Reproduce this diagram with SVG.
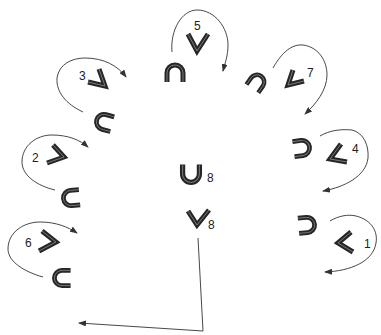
<svg xmlns="http://www.w3.org/2000/svg" xmlns:xlink="http://www.w3.org/1999/xlink" width="381" height="335" viewBox="0 0 381 335">
<style>
.sh{fill:none;stroke:#262626;stroke-width:5;stroke-linejoin:miter;stroke-linecap:butt}
.shi{fill:none;stroke:#7a7a7a;stroke-width:1;stroke-linejoin:miter}
.lbl{font-family:"Liberation Sans",Arial,sans-serif;font-size:12px;fill:#222}
.con{fill:none;stroke:#333;stroke-width:0.9}
</style>
<defs>
<path id="u" d="M-8,-9 V0 A8,8 0 0 0 8,0 V-9"/>
<marker id="ah" viewBox="0 0 8 6" refX="7" refY="3" markerWidth="8" markerHeight="6" markerUnits="userSpaceOnUse" orient="auto">
<path d="M0,0 L8,3 L0,6 z" fill="#333"/>
</marker>
</defs>
<rect width="381" height="335" fill="#fff"/>
<g id="connectors">
<path class="con" marker-end="url(#ah)" d="M172,52 C170,30 182,10 197,10 C215,10 228,28 228,45 C228,56 225,63 223,71"/>
<path class="con" marker-end="url(#ah)" d="M273,68 C282,52 292,44 303,45 C318,47 327,60 327,75 C327,90 316,104 305,114"/>
<path class="con" marker-end="url(#ah)" d="M320,136 C330,130 342,129 352,130 C364,133 369,146 368,158 C366,176 345,187 323,191"/>
<path class="con" marker-end="url(#ah)" d="M330,221 C338,216 348,214 356,216 C372,220 378,232 376,243 C373,262 350,271 325,272"/>
<path class="con" marker-end="url(#ah)" d="M83,112 C66,104 56,92 57,78 C59,64 72,58 85,58 C104,58 118,66 126,77"/>
<path class="con" marker-end="url(#ah)" d="M55,190 C38,186 22,176 22,162 C22,146 36,135 52,135 C68,135 80,140 88,147"/>
<path class="con" marker-end="url(#ah)" d="M43,277 C25,272 8,262 8,249 C8,232 24,222 40,222 C56,222 68,227 77,233"/>
<path class="con" marker-end="url(#ah)" d="M198,238 L203,331 L79,323"/>
</g>
<g id="n5">
<polyline class="sh" points="188,34 197,51 208,34"/>
<polyline class="shi" points="188,34 197,51 208,34"/>
<text class="lbl" x="194" y="30">5</text>
</g>
<g id="n-top-cap">
<use xlink:href="#u" class="sh" transform="translate(175,73) rotate(180)"/>
<use xlink:href="#u" class="shi" transform="translate(175,73) rotate(180)"/>
</g>
<g id="n7">
<use xlink:href="#u" class="sh" transform="translate(257,82) rotate(215) scale(0.9)"/>
<use xlink:href="#u" class="shi" transform="translate(257,82) rotate(215) scale(0.9)"/>
<polyline class="sh" points="293,70 288,85 304,81"/>
<polyline class="shi" points="293,70 288,85 304,81"/>
<text class="lbl" x="307" y="77">7</text>
</g>
<g id="n4">
<use xlink:href="#u" class="sh" transform="translate(302,148) rotate(262) scale(0.95)"/>
<use xlink:href="#u" class="shi" transform="translate(302,148) rotate(262) scale(0.95)"/>
<polyline class="sh" points="341,144 330,159 347,162"/>
<polyline class="shi" points="341,144 330,159 347,162"/>
<text class="lbl" x="352" y="153">4</text>
</g>
<g id="n1">
<use xlink:href="#u" class="sh" transform="translate(307,225) rotate(265) scale(0.95)"/>
<use xlink:href="#u" class="shi" transform="translate(307,225) rotate(265) scale(0.95)"/>
<polyline class="sh" points="351,232 338,243 353,252"/>
<polyline class="shi" points="351,232 338,243 353,252"/>
<text class="lbl" x="364" y="248">1</text>
</g>
<g id="n3">
<polyline class="sh" points="99,69 105,86 88,82"/>
<polyline class="shi" points="99,69 105,86 88,82"/>
<text class="lbl" x="79" y="80">3</text>
<use xlink:href="#u" class="sh" transform="translate(104,122) rotate(105) scale(0.95)"/>
<use xlink:href="#u" class="shi" transform="translate(104,122) rotate(105) scale(0.95)"/>
</g>
<g id="n2">
<polyline class="sh" points="53,145 64,157 47,163"/>
<polyline class="shi" points="53,145 64,157 47,163"/>
<text class="lbl" x="32" y="162">2</text>
<use xlink:href="#u" class="sh" transform="translate(71,198) rotate(85) scale(0.95)"/>
<use xlink:href="#u" class="shi" transform="translate(71,198) rotate(85) scale(0.95)"/>
</g>
<g id="n6">
<polyline class="sh" points="42,231 56,242 39,251"/>
<polyline class="shi" points="42,231 56,242 39,251"/>
<text class="lbl" x="25" y="247">6</text>
<use xlink:href="#u" class="sh" transform="translate(62,278) rotate(90) scale(0.95)"/>
<use xlink:href="#u" class="shi" transform="translate(62,278) rotate(90) scale(0.95)"/>
</g>
<g id="n8-cup">
<use xlink:href="#u" class="sh" transform="translate(191,174) scale(1.05)"/>
<use xlink:href="#u" class="shi" transform="translate(191,174) scale(1.05)"/>
<text class="lbl" x="207" y="182">8</text>
</g>
<g id="n8-vee">
<polyline class="sh" points="188,211 197,225 209,210"/>
<polyline class="shi" points="188,211 197,225 209,210"/>
<text class="lbl" x="208" y="229">8</text>
</g>
</svg>
